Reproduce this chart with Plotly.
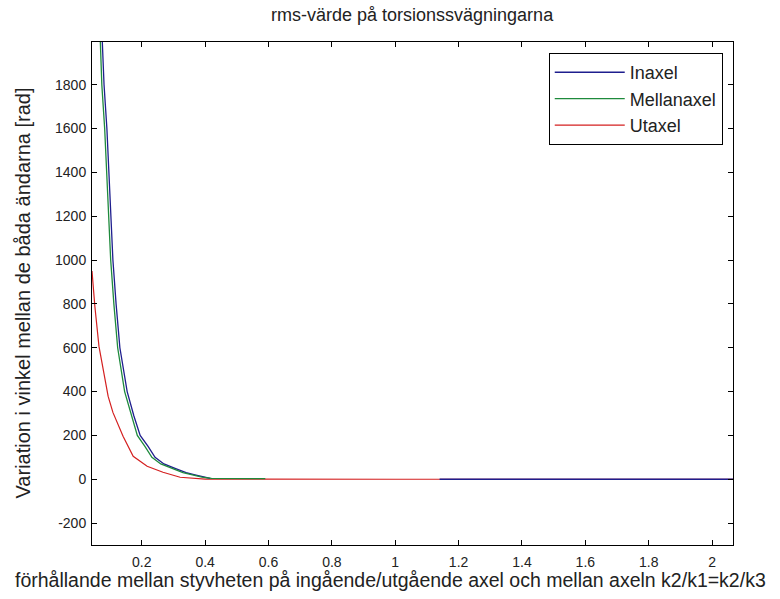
import plotly.graph_objects as go

# Data
inaxel_x = [0.074, 0.081, 0.090, 0.097, 0.103, 0.109, 0.119, 0.131, 0.154, 0.175, 0.195,
            0.220, 0.242, 0.270, 0.305, 0.340, 0.368, 0.395, 0.416, None, 1.14, 2.066]
inaxel_y = [2050, 1800, 1600, 1400, 1200, 1000, 800, 600, 400, 290, 200,
            150, 100, 70, 50, 30, 20, 10, 4, None, 0, 0]

mellan_x = [0.068, 0.074, 0.083, 0.090, 0.096, 0.102, 0.112, 0.124, 0.146, 0.167, 0.186,
            0.210, 0.232, 0.260, 0.295, 0.330, 0.360, 0.390, 0.420, 0.500, 0.590]
mellan_y = [2050, 1800, 1600, 1400, 1200, 1000, 800, 600, 400, 290, 200,
            150, 100, 70, 50, 30, 20, 10, 4, 3, 3]

ut_x = [0.043, 0.052, 0.065, 0.084, 0.094, 0.109, 0.141, 0.173, 0.217, 0.267, 0.321,
        0.400, 0.600, 1.000, 2.066]
ut_y = [950, 789, 606, 456, 378, 305, 196, 105, 59, 32, 9, 1, 0, 0, 0]

x_ticks = [0.2, 0.4, 0.6, 0.8, 1.0, 1.2, 1.4, 1.6, 1.8, 2.0]
x_tick_labels = ["0.2", "0.4", "0.6", "0.8", "1", "1.2", "1.4", "1.6", "1.8", "2"]
y_ticks = [-200, 0, 200, 400, 600, 800, 1000, 1200, 1400, 1600, 1800]
y_tick_labels = ["-200", "0", "200", "400", "600", "800", "1000", "1200", "1400", "1600", "1800"]

title_text = "rms-värde på torsionssvägningarna"
x_title = "förhållande mellan styvheten på ingående/utgående axel och mellan axeln k2/k1=k2/k3"
y_title = "Variation i vinkel mellan de båda ändarna [rad]"

FONT = "Liberation Sans, Arial, sans-serif"
TXT = "#222222"

fig = go.Figure()
fig.add_trace(go.Scatter(x=ut_x, y=ut_y, mode="lines", name="Utaxel",
                         line=dict(color="#d42020", width=1.2), legendrank=3))
fig.add_trace(go.Scatter(x=inaxel_x, y=inaxel_y, mode="lines", name="Inaxel",
                         line=dict(color="#1e1e8e", width=1.3), legendrank=1,
                         connectgaps=False))
fig.add_trace(go.Scatter(x=mellan_x, y=mellan_y, mode="lines", name="Mellanaxel",
                         line=dict(color="#1e8a3c", width=1.3), legendrank=2))

axis_common = dict(showline=True, linecolor="black", linewidth=1, mirror="ticks",
                   ticks="inside", ticklen=5, tickcolor="black", showgrid=False,
                   zeroline=False, tickfont=dict(family=FONT, size=14, color=TXT))

fig.update_layout(
    width=780, height=599,
    margin=dict(l=92, r=47, t=42, b=54),
    paper_bgcolor="white", plot_bgcolor="white",
    showlegend=True,
    legend=dict(x=0.984, y=0.978, xanchor="right", yanchor="top",
                bgcolor="white", bordercolor="black", borderwidth=1,
                font=dict(family=FONT, size=18, color=TXT),
                tracegroupgap=0, itemwidth=70),
    xaxis=dict(range=[0.043, 2.066], tickvals=x_ticks, ticktext=x_tick_labels,
               ticklabelstandoff=4, **axis_common),
    yaxis=dict(range=[-300, 1995], tickvals=y_ticks, ticktext=y_tick_labels,
               ticklabelstandoff=2, **axis_common),
    annotations=[
        dict(text=title_text, xref="paper", yref="paper", x=0.5, y=1, yshift=27,
             showarrow=False, xanchor="center", yanchor="middle",
             font=dict(family=FONT, size=18, color=TXT)),
        dict(text=x_title, xref="paper", yref="paper", x=0.465, y=0, yshift=-35,
             showarrow=False, xanchor="center", yanchor="middle",
             font=dict(family=FONT, size=19.5, color=TXT)),
        dict(text=y_title, xref="paper", yref="paper", x=0, y=0.5, xshift=-70,
             showarrow=False, xanchor="center", yanchor="middle", textangle=-90,
             font=dict(family=FONT, size=20, color=TXT)),
    ],
)

fig.write_html("out.html", config={"displayModeBar": False},
               post_script="document.body.style.margin='0';document.body.style.overflow='hidden';")
